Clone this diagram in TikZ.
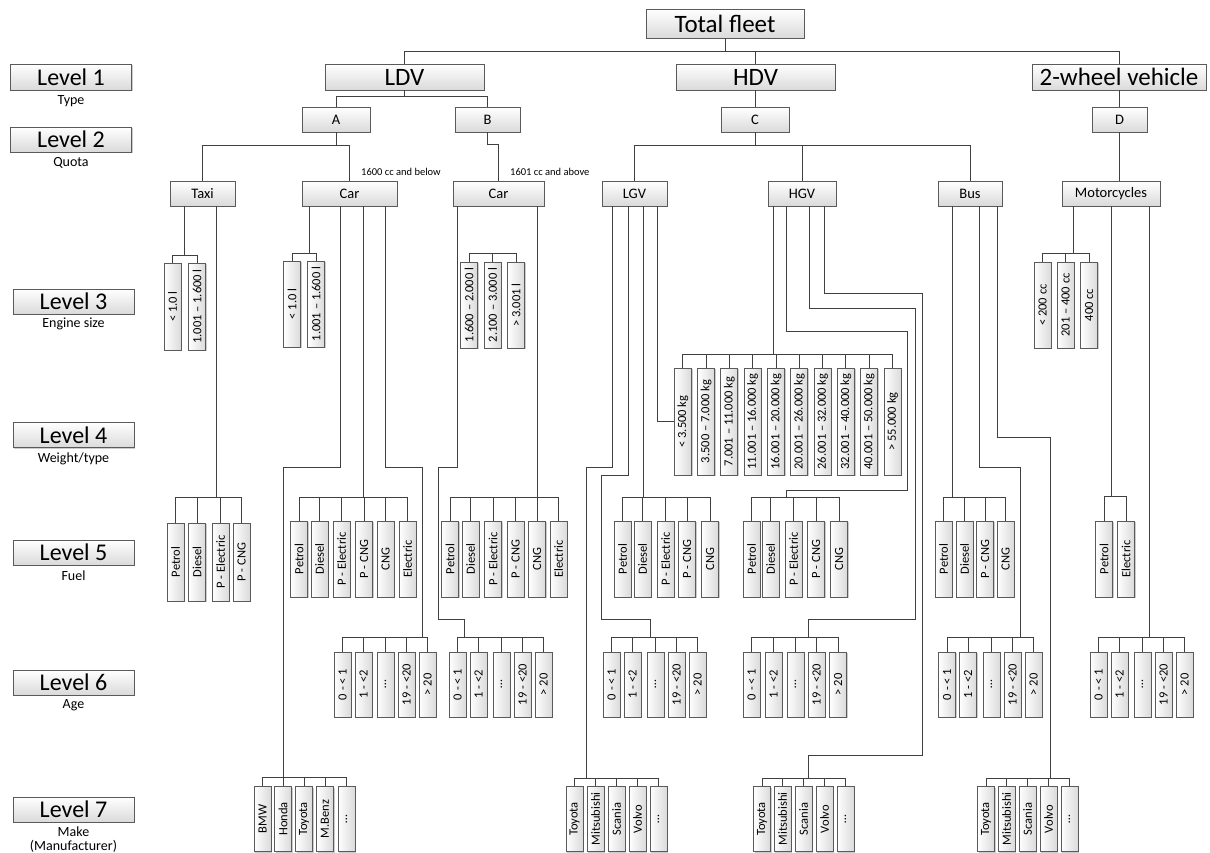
\documentclass[tikz,border=0pt]{standalone}
\usepackage{fontspec}
\setmainfont{Carlito}
\usetikzlibrary{shadows}
\definecolor{bline}{RGB}{90,90,90}
\definecolor{cline}{RGB}{64,64,64}
\definecolor{shd}{RGB}{218,218,218}
\tikzset{
  box/.style={draw=bline,line width=0.9pt,inner sep=0pt,text=black,
    drop shadow={shadow xshift=1.2pt,shadow yshift=-1.2pt,fill=black,opacity=0.2}},
  hbox/.style={box,top color=white,bottom color=shd},
  vbox/.style={box,left color=white,right color=shd,minimum width=17pt,
    font=\fontsize{12.5}{13}\selectfont},
  conn/.style={draw=cline,line width=0.9pt},
  lvl/.style={hbox,minimum width=121pt,minimum height=25pt,font=\fontsize{24}{26}\selectfont},
  sub/.style={inner sep=0pt,font=\fontsize{14}{15}\selectfont},
  mid/.style={hbox,minimum height=25pt,font=\fontsize{14.5}{16}\selectfont},
  big/.style={hbox,minimum height=26pt,font=\fontsize{25}{28}\selectfont},
  note/.style={inner sep=0pt,anchor=west,font=\fontsize{10.5}{12}\selectfont},
}
\newcommand{\vrow}[4]{%
  \foreach \cx/\t [count=\i] in {#4}{%
    \node[vbox,minimum height=#3pt] (#1\i) at (\cx,#2) {\rotatebox{90}{\t}};}}
\newcommand{\fan}[3]{\foreach \i in {#3}{\draw[conn] (#1) -| (#2\i.north);}}
\begin{document}
\begin{tikzpicture}[x=1pt,y=-1pt]
\useasboundingbox (0,0) rectangle (1210,852);
% ---------- level labels ----------
\node[lvl,minimum height=26pt] (L1) at (71,77) {Level 1};
\node[sub] (L1s) at (71,101) {Type};
\node[lvl] (L2) at (71,139.5) {Level 2};
\node[sub] (L2s) at (71,163) {Quota};
\node[lvl] (L3) at (73.5,301.5) {Level 3};
\node[sub] (L3s) at (73.5,324) {Engine size};
\node[lvl] (L4) at (73.5,435) {Level 4};
\node[sub] (L4s) at (73.5,459) {Weight/type};
\node[lvl] (L5) at (73.5,552.5) {Level 5};
\node[sub] (L5s) at (73.5,576) {Fuel};
\node[lvl] (L6) at (73.5,682.5) {Level 6};
\node[sub] (L6s) at (73.5,705) {Age};
\node[lvl] (L7) at (73.5,809.5) {Level 7};
\node[sub] (L7s) at (73.5,832) {Make};
\node[sub] (L7m) at (73.5,846) {(Manufacturer)};
% ---------- upper tree ----------
\node[big,minimum width=158pt,minimum height=29pt] (TF) at (725,23.5) {Total fleet};
\node[big,minimum width=159pt] (LDV) at (404.5,77) {LDV};
\node[big,minimum width=159pt] (HDV) at (755.5,77) {HDV};
\node[big,minimum width=174pt] (TW) at (1119,77) {2-wheel vehicle};
\node[mid,minimum width=68pt] (A) at (336,119.5) {A};
\node[mid,minimum width=65pt] (B) at (487.5,119.5) {B};
\node[mid,minimum width=68pt] (C) at (755,119.5) {C};
\node[mid,minimum width=55pt] (D) at (1119.5,119.5) {D};
\node[mid,minimum width=65pt] (Taxi) at (202.5,193.5) {Taxi};
\node[mid,minimum width=95pt] (CarA) at (349.5,193.5) {Car};
\node[mid,minimum width=91pt] (CarB) at (498.5,193.5) {Car};
\node[mid,minimum width=65pt] (LGV) at (634.5,193.5) {LGV};
\node[mid,minimum width=68pt] (HGV) at (802,193.5) {HGV};
\node[mid,minimum width=64pt] (Bus) at (970,193.5) {Bus};
\node[mid,minimum width=98pt] (Moto) at (1111,193.5) {Motorcycles};
\node[note] (nA) at (361,172) {1600 cc and below};
\node[note] (nB) at (510,172) {1601 cc and above};
% ---------- level 3: engine ----------
\vrow{ET}{306.5}{87}{172.5/{< 1.0 l},197/{1.001 – 1.600 l}}
\vrow{EA}{304}{86}{292/{< 1.0 l},316/{1.001 – 1.600 l}}
\vrow{EB}{305}{86}{469/{1.600 – 2.000 l},492.5/{2.100 – 3.000 l},516/{> 3.001  l}}
\vrow{EM}{305}{86}{1042.5/{< 200 cc},1065.5/{201 – 400 cc},1089/{400 cc}}
% ---------- level 4: weight ----------
\vrow{W}{421.5}{107}{682.8/{< 3.500 kg},706.1/{3.500 – 7.000 kg},729.4/{7.001 – 11.000 kg},752.7/{11.001 – 16.000 kg},776/{16.001 – 20.000 kg},799.3/{20.001 – 26.000 kg},822.6/{26.001 – 32.000 kg},845.9/{32.001 – 40.000 kg},869.2/{40.001 – 50.000 kg},892.5/{> 55.000 kg}}
% ---------- level 5: fuel ----------
\vrow{FT}{562}{78}{175.5/Petrol,197/Diesel,220.5/{P - Electric},241.5/{P - CNG}}
\vrow{FA}{559}{76}{299/Petrol,319.5/Diesel,341.5/{P - Electric},364/{P - CNG},385.5/CNG,407.5/Electric}
\vrow{FB}{559}{76}{450/Petrol,470.5/Diesel,493/{P - Electric},515.5/{P - CNG},537/CNG,558.5/Electric}
\vrow{FL}{559}{76}{622.5/Petrol,642.5/Diesel,665.5/{P - Electric},687/{P - CNG},710/CNG}
\vrow{FH}{559}{76}{751.5/Petrol,770.5/Diesel,793.5/{P - Electric},816/{P - CNG},839/CNG}
\vrow{FU}{559}{76}{943.5/Petrol,964.5/Diesel,985/{P - CNG},1005.5/CNG}
\vrow{FM}{559}{76}{1104/Petrol,1126/Electric}
% ---------- level 6: age ----------
\vrow{AA}{684.5}{65}{342.5/{0 - < 1},363.5/{1 - <2},385.5/{…},406.5/{19 - <20},427.5/{> 20}}
\vrow{AB}{684.5}{65}{457.5/{0 - < 1},478.5/{1 - <2},501.5/{…},522.5/{19 - <20},543.5/{> 20}}
\vrow{AL}{684.5}{65}{611.5/{0 - < 1},632.5/{1 - <2},655.5/{…},676.5/{19 - <20},697.5/{> 20}}
\vrow{AH}{684.5}{65}{751.5/{0 - < 1},773.5/{1 - <2},795.5/{…},816.5/{19 - <20},838/{> 20}}
\vrow{AU}{684.5}{65}{947/{0 - < 1},968/{1 - <2},991.5/{…},1012.5/{19 - <20},1033.5/{> 20}}
\vrow{AM}{684.5}{65}{1098.5/{0 - < 1},1119.5/{1 - <2},1142.5/{…},1163.5/{19 - <20},1184.5/{> 20}}
% ---------- level 7: make ----------
\vrow{MC}{819}{65}{262.5/BMW,283/Honda,304/Toyota,325/M.Benz,346.5/{…}}
\vrow{ML}{819}{65}{574.5/Toyota,595.5/Mitsubishi,616.5/Scania,637.5/Volvo,658.5/{…}}
\vrow{MH}{819}{65}{762/Toyota,782.5/Mitsubishi,803.5/Scania,824.5/Volvo,845.5/{…}}
\vrow{MU}{819}{65}{986/Toyota,1006.5/Mitsubishi,1027.5/Scania,1048.5/Volvo,1069.5/{…}}
% ---------- joints ----------
\coordinate (jET) at (184,255);
\coordinate (jEA) at (309,253);
\coordinate (jEB) at (492.5,253);
\coordinate (jEM) at (1073,253);
\coordinate (jW) at (773,354);
\coordinate (jFT) at (216,497);
\coordinate (jFA) at (363,497);
\coordinate (jFB) at (537,497);
\coordinate (jFL) at (643,497);
\coordinate (jFH) at (786,497);
\coordinate (jFU) at (952,497);
\coordinate (jFM) at (1111,496);
\coordinate (jAA) at (422,637);
\coordinate (jAB) at (464,637);
\coordinate (jAL) at (650,637);
\coordinate (jAH) at (808,637);
\coordinate (jAU) at (1020,637);
\coordinate (jAM) at (1149,637);
\coordinate (jMC) at (283,777);
\coordinate (jML) at (586,778);
\coordinate (jMH) at (808,778);
\coordinate (jMU) at (1050,778);
% ---------- upper connectors ----------
\foreach \c in {LDV,HDV,TW}{\draw[conn] (TF.south) |- ([yshift=12pt]\c.north) -- (\c.north);}
\foreach \c in {A,B}{\draw[conn] (LDV.south) |- ([yshift=10pt]\c.north) -- (\c.north);}
\draw[conn] (C.north |- HDV.south) -- (C.north);
\draw[conn] (D.north |- TW.south) -- (D.north);
\foreach \c in {Taxi,CarA}{\draw[conn] (A.south) |- ([yshift=35pt]\c.north) -- (\c.north);}
\draw[conn] (B.south) |- ([yshift=36pt]CarB.north) -- (CarB.north);
\foreach \c in {LGV,HGV,Bus}{\draw[conn] (C.south) |- ([yshift=35pt]\c.north) -- (\c.north);}
\draw[conn] (D.south) -- (D.south |- Moto.north);
% ---------- branches ----------
% Taxi
\draw[conn] (jET |- Taxi.south) -- (jET);
\draw[conn] (jFT |- Taxi.south) -- (jFT);
% Car A
\draw[conn] (jEA |- CarA.south) -- (jEA);
\draw[conn] ([xshift=-9.5pt]CarA.south) |- (283,467) -- (jMC);
\draw[conn] (jFA |- CarA.south) -- (jFA);
\draw[conn] ([xshift=35.5pt]CarA.south) |- (422,467) -- (jAA);
% Car B
\draw[conn] ([xshift=-41.5pt]CarB.south) |- (438,467) |- (464,619) -- (jAB);
\draw[conn] (jFB |- CarB.south) -- (jFB);
% LGV
\draw[conn] ([xshift=-22.5pt]LGV.south) |- (586,467) -- (jML);
\draw[conn] ([xshift=-6.5pt]LGV.south) |- (601,475) |- (650,619) -- (jAL);
\draw[conn] (jFL |- LGV.south) -- (jFL);
\draw[conn] ([xshift=22.5pt]LGV.south) |- (W1.west);
% HGV
\draw[conn] (jW |- HGV.south) -- (jW);
\draw[conn] ([xshift=-16pt]HGV.south) |- (907,331) |- (786,490) -- (jFH);
\draw[conn] ([xshift=7pt]HGV.south) |- (915,308) |- (808,619) -- (jAH);
\draw[conn] ([xshift=22pt]HGV.south) |- (922,293) |- (808,755) -- (jMH);
% Bus
\draw[conn] (jFU |- Bus.south) -- (jFU);
\draw[conn] ([xshift=9pt]Bus.south) |- (1020,467) -- (jAU);
\draw[conn] ([xshift=27pt]Bus.south) |- (1050,437) -- (jMU);
% Motorcycles
\draw[conn] (jEM |- Moto.south) -- (jEM);
\draw[conn] (jFM |- Moto.south) -- (jFM);
\draw[conn] (jAM |- Moto.south) -- (jAM);
% ---------- fans ----------
\fan{jET}{ET}{1,2}
\fan{jEA}{EA}{1,2}
\fan{jEB}{EB}{1,2,3}
\fan{jEM}{EM}{1,2,3}
\fan{jW}{W}{1,...,10}
\fan{jFT}{FT}{1,...,4}
\fan{jFA}{FA}{1,...,6}
\fan{jFB}{FB}{1,...,6}
\fan{jFL}{FL}{1,...,5}
\fan{jFH}{FH}{1,...,5}
\fan{jFU}{FU}{1,...,4}
\fan{jFM}{FM}{1,2}
\fan{jAA}{AA}{1,...,5}
\fan{jAB}{AB}{1,...,5}
\fan{jAL}{AL}{1,...,5}
\fan{jAH}{AH}{1,...,5}
\fan{jAU}{AU}{1,...,5}
\fan{jAM}{AM}{1,...,5}
\fan{jMC}{MC}{1,...,5}
\fan{jML}{ML}{1,...,5}
\fan{jMH}{MH}{1,...,5}
\fan{jMU}{MU}{1,...,5}
\end{tikzpicture}
\end{document}
